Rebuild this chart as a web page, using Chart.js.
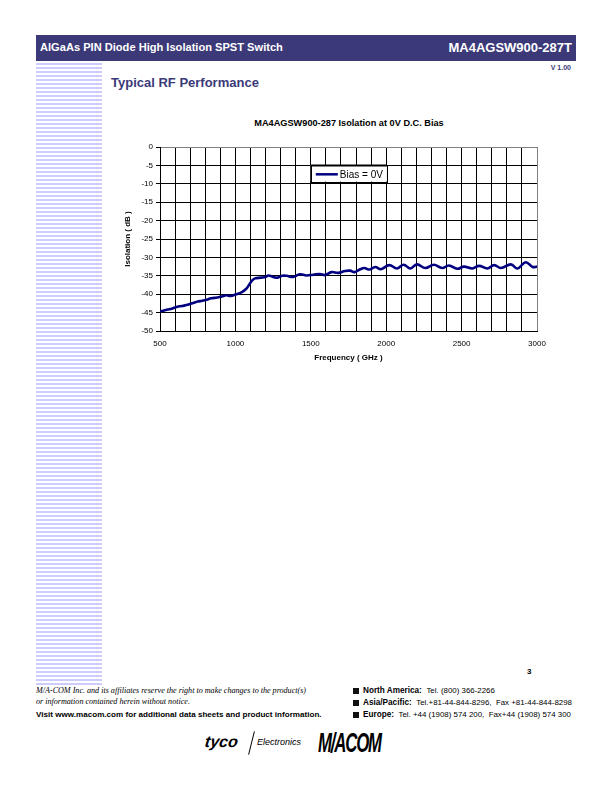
<!DOCTYPE html>
<html>
<head>
<meta charset="utf-8">
<script src="https://cdn.jsdelivr.net/npm/chart.js@4.4.1/dist/chart.umd.min.js"></script>
<style>
  html, body { margin:0; padding:0; background:#fff; }
  body { width:612px; height:792px; position:relative; overflow:hidden; font-family:'Liberation Sans', Arial, sans-serif; }
  .abs { position:absolute; white-space:nowrap; line-height:1; }
  #hdr { position:absolute; left:36px; top:35px; width:540px; height:26px; background:#3b3978; }
  #stripes { position:absolute; left:36px; top:63px; width:66px; height:622px;
    background: repeating-linear-gradient(to bottom, #ccccff 0px, #ccccff 2px, #ffffff 2px, #ffffff 4px); }
  #chartbox { position:absolute; left:100px; top:130px; width:450px; height:240px; }
  .sq { position:absolute; width:6px; height:6px; background:#111; }
</style>
</head>
<body>
<div id="hdr"></div>
<div class="abs" style="left:40px;top:42px;font-size:11.1px;font-weight:bold;color:#fff;">AlGaAs PIN Diode High Isolation SPST Switch</div>
<div class="abs" style="right:40px;top:41px;font-size:13px;font-weight:bold;color:#fff;">MA4AGSW900-287T</div>
<div id="stripes"></div>
<div class="abs" style="right:41px;top:64px;font-size:7px;font-weight:bold;color:#3b3978;">V 1.00</div>
<div class="abs" style="left:111px;top:76px;font-size:13px;font-weight:bold;color:#3b3978;">Typical RF Performance</div>
<div class="abs" style="left:349px;top:119px;font-size:9.2px;font-weight:bold;color:#000;transform:translateX(-50%);">MA4AGSW900-287 Isolation at 0V D.C. Bias</div>

<div id="chartbox"><canvas id="c" width="450" height="240"></canvas></div>

<div class="abs" style="left:527px;top:668px;font-size:8px;font-weight:bold;">3</div>
<div class="abs" style="left:36px;top:687px;font-size:8.1px;font-style:italic;font-family:'Liberation Serif','Times New Roman',serif;">M/A-COM Inc. and its affiliates reserve the right to make changes to the product(s)</div>
<div class="abs" style="left:36px;top:698px;font-size:8.1px;font-style:italic;font-family:'Liberation Serif','Times New Roman',serif;">or information contained herein without notice.</div>
<div class="abs" style="left:36px;top:711px;font-size:8.1px;font-weight:bold;">Visit www.macom.com for additional data sheets and product information.</div>

<div class="sq" style="left:353px;top:688px;"></div>
<div class="sq" style="left:353px;top:700px;"></div>
<div class="sq" style="left:353px;top:712px;"></div>
<div class="abs" style="left:363px;top:687px;font-size:8.2px;"><b>North America:</b>&nbsp; <span style="font-size:7.9px;">Tel. (800) 366-2266</span></div>
<div class="abs" style="left:363px;top:699px;font-size:8.2px;"><b>Asia/Pacific:</b>&nbsp; <span style="font-size:7.9px;">Tel.+81-44-844-8296,&nbsp; Fax +81-44-844-8298</span></div>
<div class="abs" style="left:363px;top:711px;font-size:8.2px;"><b>Europe:</b>&nbsp; <span style="font-size:7.9px;">Tel. +44 (1908) 574 200,&nbsp; Fax+44 (1908) 574 300</span></div>

<div class="abs" style="left:205px;top:734px;font-size:16px;font-weight:900;font-style:italic;transform:skewX(-8deg);">tyco</div>
<div style="position:absolute;left:251px;top:731px;width:1px;height:24px;background:#000;transform:rotate(14deg);"></div>
<div class="abs" style="left:257px;top:738px;font-size:9px;font-style:italic;">Electronics</div>
<div class="abs" style="left:318px;top:729px;font-size:28px;font-weight:900;font-style:italic;letter-spacing:-2px;transform:scaleX(0.6);transform-origin:left;">M/ACOM</div>

<script>
// ---- data ----
const freqMHz = [500, 538, 571, 600, 630, 660, 690, 720, 750, 780, 810, 840, 880, 910, 940, 970, 1000,
  1040, 1070, 1090, 1110, 1130, 1170, 1200, 1220, 1250, 1280, 1310, 1340, 1382, 1427, 1471, 1516, 1560,
  1593, 1638, 1682, 1727, 1760, 1790, 1825, 1855, 1890, 1927, 1965, 2020, 2071, 2116, 2160, 2204, 2260,
  2316, 2371, 2416, 2471, 2516, 2571, 2616, 2671, 2716, 2760, 2827, 2871, 2925, 2971, 3000];
const isolationDb = [-44.7, -44.3, -44.0, -43.6, -43.3, -43.1, -42.8, -42.4, -42.0, -41.8, -41.5, -41.1, -40.9, -40.6, -40.3, -40.5, -40.1,
  -39.5, -38.6, -37.5, -36.3, -35.7, -35.5, -35.3, -34.9, -35.3, -35.5, -35.0, -35.0, -35.3, -34.6, -34.9, -34.7, -34.5,
  -34.8, -34.0, -34.2, -33.7, -33.6, -34.0, -33.3, -32.9, -33.3, -32.6, -33.2, -32.1, -33.0, -32.0, -33.0, -31.9, -32.9,
  -32.0, -32.9, -32.2, -33.1, -32.5, -33.0, -32.3, -33.0, -32.1, -32.9, -31.9, -33.0, -31.3, -32.6, -32.5];
const seriesLabel = 'Bias = 0V';
const xTickLabels = [500, 1000, 1500, 2000, 2500, 3000];
const yMin = -50, yMax = 0, yStep = 5;
const xMin = 500, xMax = 3000, xGridStep = 100;

const FONT = "'Liberation Sans', Arial, sans-serif";
Chart.defaults.font.family = FONT;
Chart.defaults.color = '#000';

const legendInPlot = {
  id: 'legendInPlot',
  afterDatasetsDraw(chart) {
    const {ctx, scales: {x, y}} = chart;
    const x0 = x.getPixelForValue(1500), x1 = x.getPixelForValue(2005);
    const y0 = y.getPixelForValue(-4.9), y1 = y.getPixelForValue(-9.4);
    ctx.save();
    ctx.fillStyle = '#fff';
    ctx.fillRect(x0, y0, x1 - x0, y1 - y0);
    ctx.strokeStyle = '#000';
    ctx.lineWidth = 1;
    ctx.strokeRect(Math.round(x0) + 0.5, Math.round(y0) + 0.5, Math.round(x1 - x0), Math.round(y1 - y0));
    ctx.lineWidth = 2;
    ctx.beginPath(); ctx.moveTo(x0, Math.round(y0) + 0.5); ctx.lineTo(x1, Math.round(y0) + 0.5); ctx.stroke();
    const ym = (y0 + y1) / 2 + 1;
    ctx.strokeStyle = '#000080';
    ctx.lineWidth = 2.5;
    ctx.beginPath(); ctx.moveTo(x0 + 5, ym); ctx.lineTo(x0 + 27, ym); ctx.stroke();
    ctx.fillStyle = '#000';
    ctx.font = '10px ' + FONT;
    ctx.textBaseline = 'middle';
    ctx.fillText(seriesLabel, x0 + 29, ym + 0.5);
    ctx.restore();
  }
};

new Chart(document.getElementById('c'), {
  type: 'line',
  data: {
    datasets: [{
      label: seriesLabel,
      data: freqMHz.map((f, i) => ({x: f, y: isolationDb[i]})),
      borderColor: '#000080',
      borderWidth: 2.6,
      pointRadius: 0,
      tension: 0.4,
      fill: false
    }]
  },
  options: {
    responsive: false,
    animation: false,
    devicePixelRatio: 1,
    layout: { padding: { left: 0, right: 13, top: 17, bottom: 0 } },
    plugins: { legend: { display: false }, title: { display: false }, tooltip: { enabled: false } },
    scales: {
      x: {
        type: 'linear', min: xMin, max: xMax,
        afterFit: s => { s.height = 39; s.paddingRight = 0; s.paddingLeft = 0; },
        ticks: {
          stepSize: xGridStep, autoSkip: false, maxRotation: 0, padding: 8,
          font: { size: 8 },
          callback: v => xTickLabels.includes(v) ? String(v) : ''
        },
        grid: {
          drawTicks: false, lineWidth: 1,
          color: c => (c.tick && c.tick.value === xMax) ? '#808080' : '#000'
        },
        border: { display: true, color: '#000', width: 1 },
        title: { display: true, text: 'Frequency ( GHz )', font: { size: 8, weight: 'bold' }, padding: { top: 0, bottom: 7 } }
      },
      y: {
        type: 'linear', min: yMin, max: yMax,
        afterFit: s => { s.width = 60; s.paddingTop = 0; s.paddingBottom = 0; },
        ticks: { stepSize: yStep, padding: 3, font: { size: 8 } },
        grid: {
          drawTicks: true, tickLength: 4, tickColor: '#000', lineWidth: 1,
          color: c => (c.tick && c.tick.value === yMax) ? '#808080' : '#000'
        },
        border: { display: true, color: '#000', width: 1 },
        title: { display: true, text: 'Isolation ( dB )', font: { size: 8, weight: 'bold' }, padding: { top: 23, bottom: 0 } }
      }
    }
  },
  plugins: [legendInPlot]
});
</script>
</body>
</html>
